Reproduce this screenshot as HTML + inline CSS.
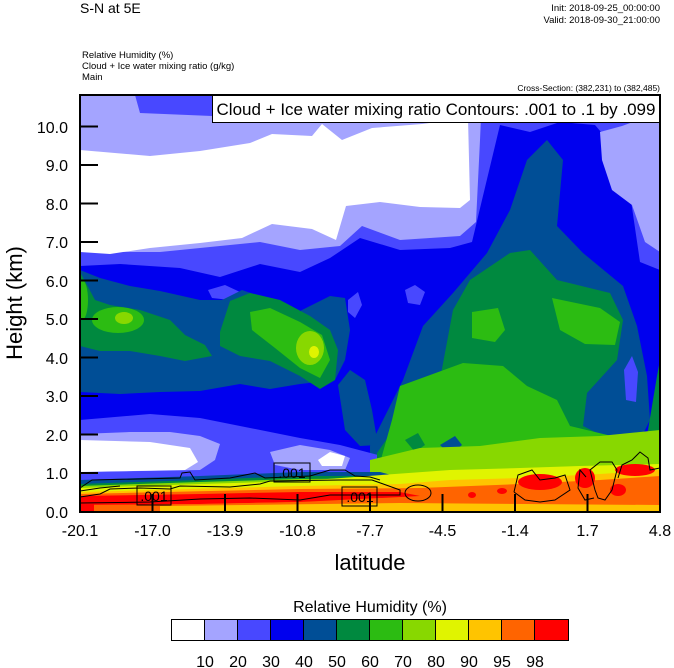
<!DOCTYPE html>
<html><head><meta charset="utf-8"><style>
html,body{margin:0;padding:0;background:#fff;}
svg{display:block;font-family:"Liberation Sans",sans-serif;}
</style></head><body>
<svg width="674" height="668" viewBox="0 0 674 668" xmlns="http://www.w3.org/2000/svg">
<defs><clipPath id="pc"><rect x="80" y="95" width="580" height="417"/></clipPath></defs>
<text x="80" y="13" font-size="14">S-N at 5E</text>
<text x="660" y="11" font-size="9.5" text-anchor="end">Init: 2018-09-25_00:00:00</text>
<text x="660" y="23" font-size="9.5" text-anchor="end">Valid: 2018-09-30_21:00:00</text>
<text x="82" y="58" font-size="9.5">Relative Humidity   (%)</text>
<text x="82" y="69" font-size="9.5">Cloud + Ice water mixing ratio   (g/kg)</text>
<text x="82" y="80" font-size="9.5">Main</text>
<text x="660" y="91" font-size="8.5" text-anchor="end">Cross-Section: (382,231) to (382,485)</text>
<g clip-path="url(#pc)">
<rect x="80" y="95" width="580" height="417" fill="#0000ee"/>
<polygon fill="#4848ff" points="80,95 660,95 660,270 640,262 625,160 595,125 560,122 530,132 500,125 482,200 472,242 450,248 400,250 360,238 330,258 300,272 260,264 220,277 180,268 120,264 80,266"/>
<polygon fill="#a4a4ff" points="80,95 135,95 140,113 212,116 215,95 482,95 480,140 476,222 460,236 400,240 362,226 340,246 300,250 260,242 210,247 160,252 120,252 80,252"/>
<polygon fill="#a4a4ff" points="600,132 622,126 660,112 660,252 645,242 632,205 612,190 602,160"/>
<polygon fill="#ffffff" points="80,150 150,156 200,151 250,143 272,134 312,136 322,124 342,140 372,128 422,124 468,118 470,200 460,208 420,207 380,202 346,206 336,240 312,229 272,224 242,238 200,243 150,248 110,254 80,252"/>
<polygon fill="#4848ff" points="208,290 225,285 240,292 230,300 212,298"/>
<polygon fill="#4848ff" points="348,300 358,292 362,305 355,318 348,312"/>
<!-- navy left -->
<polygon fill="#004e96" points="80,270 100,278 130,286 160,291 200,300 222,300 242,290 270,300 300,311 330,296 345,298 350,330 345,360 335,380 300,384 270,389 240,384 200,391 160,392 120,394 80,392"/>
<polygon fill="#004e96" points="338,385 350,370 365,380 372,410 378,445 360,446 345,430"/>
<!-- navy right -->
<polygon fill="#004e96" points="370,446 403,380 423,326 453,293 487,253 510,210 527,160 547,140 563,160 557,226 583,253 623,286 637,326 647,376 650,420 640,440 600,446 550,450 470,455 400,462 370,470"/>
<polygon fill="#4848ff" points="624,370 632,356 638,372 636,402 626,400"/>
<polygon fill="#4848ff" points="405,290 415,285 425,292 420,305 408,303"/>
<!-- light blue bands low left -->
<polygon fill="#4848ff" points="80,420 150,414 200,418 250,428 300,438 340,445 378,455 380,480 80,480"/>
<polygon fill="#a4a4ff" points="80,434 130,432 170,432 200,436 220,444 215,460 200,470 80,472"/>
<polygon fill="#a4a4ff" points="270,452 300,445 330,450 350,458 345,470 300,470 275,465"/>
<polygon fill="#ffffff" points="80,440 150,442 190,448 198,462 185,470 80,472"/>
<polygon fill="#ffffff" points="318,460 330,452 345,456 342,466 322,466"/>
<!-- green left -->
<polygon fill="#00893f" points="80,272 95,300 110,305 140,310 170,320 185,335 205,345 212,356 185,361 160,356 130,351 100,351 80,346"/>
<polygon fill="#00893f" points="220,332 230,301 250,293 280,300 310,316 330,330 338,350 335,380 320,389 300,376 270,361 240,356 220,346"/>
<ellipse cx="118" cy="320" rx="26" ry="13" fill="#2cbc12"/>
<ellipse cx="82" cy="300" rx="6" ry="20" fill="#2cbc12"/>
<polygon fill="#2cbc12" points="250,312 270,308 300,322 322,335 330,360 320,378 300,368 275,348 252,330"/>
<ellipse cx="124" cy="318" rx="9" ry="6" fill="#88d800"/>
<ellipse cx="310" cy="348" rx="14" ry="17" fill="#88d800"/>
<ellipse cx="314" cy="352" rx="5" ry="6" fill="#e0f400"/>
<!-- green right -->
<polygon fill="#00893f" points="377,453 400,420 430,433 453,310 470,280 510,253 530,250 557,280 610,293 623,320 617,360 587,393 583,426 603,436 647,436 657,376 660,360 660,512 377,512"/>
<polygon fill="#2cbc12" points="378,470 392,420 400,386 463,363 503,366 527,386 557,400 570,426 653,446 660,440 660,512 378,512"/>
<polygon fill="#2cbc12" points="472,312 498,308 505,330 495,342 472,338"/>
<polygon fill="#2cbc12" points="552,298 600,308 620,322 615,345 585,344 560,330"/>
<polygon fill="#00893f" points="405,440 418,433 425,445 415,452"/>
<polygon fill="#004e96" points="440,445 455,436 462,445 450,455"/>
<!-- bottom -->
<polygon fill="#88d800" points="370,460 420,448 480,446 540,438 600,436 660,430 660,512 370,512"/>
<polygon fill="#004e96" points="80,480 200,476 300,472 380,472 410,480 380,486 80,490"/>
<polygon fill="#00893f" points="80,484 200,480 300,476 400,476 420,484 80,492"/>
<polygon fill="#88d800" points="80,486 200,482 300,479 420,478 440,484 80,494"/>
<polygon fill="#e0f400" points="80,488 200,484 300,481 450,470 520,468 580,466 660,464 660,512 80,512"/>
<polygon fill="#ffc400" points="80,492 300,486 400,484 450,480 520,478 600,474 660,470 660,512 80,512"/>
<polygon fill="#ff6400" points="80,494 300,489 420,488 520,484 600,480 660,476 660,512 80,512"/>
<polygon fill="#ff0000" points="80,496 200,494 300,492 400,492 420,496 300,502 200,504 80,505"/>
<polygon fill="#ff6400" points="80,505 200,504 400,500 660,500 660,512 80,512"/>
<polygon fill="#ffc400" points="160,506 400,503 660,505 660,512 160,512"/>
<rect x="80" y="504" width="14" height="8" fill="#ff0000"/>
<ellipse cx="540" cy="482" rx="22" ry="8" fill="#ff0000"/>
<ellipse cx="585" cy="478" rx="10" ry="10" fill="#ff0000"/>
<ellipse cx="635" cy="470" rx="20" ry="6" fill="#ff0000"/>
<ellipse cx="618" cy="490" rx="8" ry="6" fill="#ff0000"/>
<ellipse cx="472" cy="495" rx="4" ry="3" fill="#ff0000"/>
<ellipse cx="502" cy="491" rx="5" ry="3" fill="#ff0000"/>
<g fill="none" stroke="#000" stroke-width="1">
<polyline points="80,488 92,480 180,478 182,473 190,472 195,480 230,478 245,475 255,473 265,478 310,476 330,470 345,470 355,476 370,477 380,480"/>
<polyline points="80,497 100,494 110,489 140,488 170,489 180,486 230,487 260,484 270,481 340,480 372,480 400,490 400,495 330,495 300,500 250,498 200,499 150,502 80,503"/>
<polyline points="80,491 100,488 120,486"/>
<ellipse cx="418" cy="493" rx="13" ry="8"/>
<polyline points="514,492 518,475 532,470 540,480 555,478 565,475 570,490 555,500 540,502 525,500 514,492"/>
<polyline points="595,490 590,470 600,462 612,462 617,470 612,490 605,500 598,498 595,490"/>
<polyline points="618,478 622,465 632,460 640,452 648,458 650,470 660,468"/>
<polyline points="586,477 580,470 578,488 585,500 594,498"/>
</g>
</g>
<g font-size="14">
<rect x="137" y="486" width="34" height="19" fill="none" stroke="#000" stroke-width="1"/>
<text x="154" y="501" text-anchor="middle">.001</text>
<rect x="274" y="463" width="36" height="19" fill="none" stroke="#000" stroke-width="1"/>
<text x="292" y="478" text-anchor="middle">.001</text>
<rect x="342" y="487" width="35" height="19" fill="none" stroke="#000" stroke-width="1"/>
<text x="360" y="502" text-anchor="middle">.001</text>
</g>
<rect x="212.5" y="95.5" width="447" height="27" fill="#fff" stroke="#000" stroke-width="1"/>
<text x="436" y="115" font-size="17" text-anchor="middle">Cloud + Ice water mixing ratio Contours: .001 to .1 by .099</text>
<rect x="80" y="95" width="580" height="417" fill="none" stroke="#000" stroke-width="2"/>
<g stroke="#000" stroke-width="2">
<line x1="80" y1="126.5" x2="98" y2="126.5"/><line x1="80" y1="165" x2="98" y2="165"/>
<line x1="80" y1="203.5" x2="98" y2="203.5"/><line x1="80" y1="242" x2="98" y2="242"/>
<line x1="80" y1="280.5" x2="98" y2="280.5"/><line x1="80" y1="319" x2="98" y2="319"/>
<line x1="80" y1="357.5" x2="98" y2="357.5"/><line x1="80" y1="396" x2="98" y2="396"/>
<line x1="80" y1="434.5" x2="98" y2="434.5"/><line x1="80" y1="473" x2="98" y2="473"/>
<line x1="152.5" y1="512" x2="152.5" y2="494"/><line x1="225" y1="512" x2="225" y2="494"/>
<line x1="297.5" y1="512" x2="297.5" y2="494"/><line x1="370" y1="512" x2="370" y2="494"/>
<line x1="442.5" y1="512" x2="442.5" y2="494"/><line x1="515" y1="512" x2="515" y2="494"/>
<line x1="587.5" y1="512" x2="587.5" y2="494"/>
</g>
<g font-size="16" text-anchor="end">
<text x="68" y="133">10.0</text><text x="68" y="171">9.0</text><text x="68" y="210">8.0</text>
<text x="68" y="248">7.0</text><text x="68" y="287">6.0</text><text x="68" y="325">5.0</text>
<text x="68" y="364">4.0</text><text x="68" y="402">3.0</text><text x="68" y="441">2.0</text>
<text x="68" y="479">1.0</text><text x="68" y="518">0.0</text>
</g>
<g font-size="16" text-anchor="middle">
<text x="80" y="536">-20.1</text><text x="152.5" y="536">-17.0</text><text x="225" y="536">-13.9</text>
<text x="297.5" y="536">-10.8</text><text x="370" y="536">-7.7</text><text x="442.5" y="536">-4.5</text>
<text x="515" y="536">-1.4</text><text x="587.5" y="536">1.7</text><text x="660" y="536">4.8</text>
</g>
<text x="370" y="570" font-size="22" text-anchor="middle">latitude</text>
<text transform="translate(22,303) rotate(-90)" font-size="22" text-anchor="middle">Height (km)</text>
<text x="370" y="612" font-size="16" text-anchor="middle">Relative Humidity  (%)</text>
<g stroke="#000" stroke-width="1">
<rect x="171.5" y="619.5" width="33" height="21" fill="#ffffff"/>
<rect x="204.5" y="619.5" width="33" height="21" fill="#a4a4ff"/>
<rect x="237.5" y="619.5" width="33" height="21" fill="#4848ff"/>
<rect x="270.5" y="619.5" width="33" height="21" fill="#0000ee"/>
<rect x="303.5" y="619.5" width="33" height="21" fill="#004e96"/>
<rect x="336.5" y="619.5" width="33" height="21" fill="#00893f"/>
<rect x="369.5" y="619.5" width="33" height="21" fill="#2cbc12"/>
<rect x="402.5" y="619.5" width="33" height="21" fill="#88d800"/>
<rect x="435.5" y="619.5" width="33" height="21" fill="#e0f400"/>
<rect x="468.5" y="619.5" width="33" height="21" fill="#ffc400"/>
<rect x="501.5" y="619.5" width="33" height="21" fill="#ff6400"/>
<rect x="534.5" y="619.5" width="34" height="21" fill="#ff0000"/>
</g>
<g font-size="16" text-anchor="middle">
<text x="205" y="667">10</text><text x="238" y="667">20</text><text x="271" y="667">30</text>
<text x="304" y="667">40</text><text x="337" y="667">50</text><text x="370" y="667">60</text>
<text x="403" y="667">70</text><text x="436" y="667">80</text><text x="469" y="667">90</text>
<text x="502" y="667">95</text><text x="535" y="667">98</text>
</g>
</svg>
</body></html>
